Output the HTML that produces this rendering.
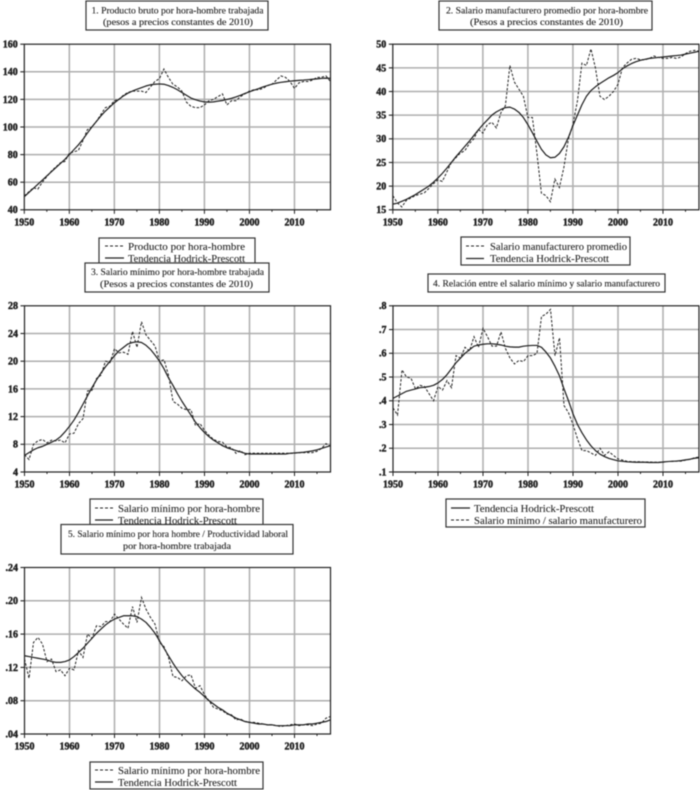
<!DOCTYPE html>
<html lang="es">
<head>
<meta charset="utf-8">
<title>Salarios y productividad</title>
<style>
html,body{margin:0;padding:0;background:#fff;width:700px;height:790px;overflow:hidden}
svg{display:block;filter:blur(0.45px)}
text{font-family:"Liberation Serif",serif;fill:#222}
.box{fill:#fff;stroke:#333;stroke-width:1.2}
.ttl{font-size:9.5px;text-anchor:start;stroke:#222;stroke-width:.12px}
.leg{font-size:10px;text-anchor:start;stroke:#222;stroke-width:.08px}
.tick{font-size:10px;font-weight:bold;stroke:#222;stroke-width:.45px}
</style>
</head>
<body>
<svg id="figure" width="700" height="790" viewBox="0 0 700 790" xmlns="http://www.w3.org/2000/svg">
  <g id="panel-1"></g>
  <g id="panel-2"></g>
  <g id="panel-3"></g>
  <g id="panel-4"></g>
  <g id="panel-5"></g>

  <g>
    <rect class="box" x="99" y="238" width="156" height="30"/>
    <line x1="105" x2="124" y1="246" y2="246" stroke="#222" stroke-width="1" stroke-dasharray="3 2"/>
    <text class="leg" x="128" y="250" textLength="117" lengthAdjust="spacingAndGlyphs">Producto por hora-hombre</text>
    <line x1="105" x2="124" y1="258" y2="258" stroke="#222" stroke-width="1.2"/>
    <text class="leg" x="128" y="262" textLength="117" lengthAdjust="spacingAndGlyphs">Tendencia Hodrick-Prescott</text>
  </g>
  <g>
    <rect class="box" x="461" y="237" width="169" height="28"/>
    <line x1="466" x2="484" y1="246" y2="246" stroke="#222" stroke-width="1" stroke-dasharray="3 2"/>
    <text class="leg" x="490" y="250" textLength="137" lengthAdjust="spacingAndGlyphs">Salario manufacturero promedio</text>
    <line x1="466" x2="484" y1="258.500" y2="258.500" stroke="#222" stroke-width="1.2"/>
    <text class="leg" x="490" y="262" textLength="119" lengthAdjust="spacingAndGlyphs">Tendencia Hodrick-Prescott</text>
  </g>
  <g>
    <rect class="box" x="90" y="499" width="173" height="30"/>
    <line x1="95" x2="113" y1="508" y2="508" stroke="#222" stroke-width="1" stroke-dasharray="3 2"/>
    <text class="leg" x="118" y="512" textLength="142" lengthAdjust="spacingAndGlyphs">Salario mínimo por hora-hombre</text>
    <line x1="95" x2="113" y1="520" y2="520" stroke="#222" stroke-width="1.2"/>
    <text class="leg" x="118" y="524" textLength="119" lengthAdjust="spacingAndGlyphs">Tendencia Hodrick-Prescott</text>
  </g>
  <g>
    <rect class="box" x="446" y="499" width="199" height="28"/>
    <line x1="451" x2="470" y1="508" y2="508" stroke="#222" stroke-width="1.2"/>
    <text class="leg" x="474" y="512" textLength="120" lengthAdjust="spacingAndGlyphs">Tendencia Hodrick-Prescott</text>
    <line x1="451" x2="470" y1="520" y2="520" stroke="#222" stroke-width="1" stroke-dasharray="3 2"/>
    <text class="leg" x="474" y="524" textLength="168" lengthAdjust="spacingAndGlyphs">Salario mínimo / salario manufacturero</text>
  </g>
  <g>
    <rect class="box" x="90" y="762" width="173" height="27"/>
    <line x1="95" x2="113" y1="770" y2="770" stroke="#222" stroke-width="1" stroke-dasharray="3 2"/>
    <text class="leg" x="118" y="774" textLength="142" lengthAdjust="spacingAndGlyphs">Salario mínimo por hora-hombre</text>
    <line x1="95" x2="113" y1="782" y2="782" stroke="#222" stroke-width="1.2"/>
    <text class="leg" x="118" y="786" textLength="119" lengthAdjust="spacingAndGlyphs">Tendencia Hodrick-Prescott</text>
  </g>

  <g>
    <rect class="box" x="86" y="1" width="182" height="29"/>
    <text class="ttl" x="91.500" y="13.500" textLength="172" lengthAdjust="spacingAndGlyphs">1. Producto bruto por hora-hombre trabajada</text>
    <text class="ttl" x="103" y="25" textLength="150" lengthAdjust="spacingAndGlyphs">(pesos a precios constantes de 2010)</text>
  </g>
  <g>
    <rect class="box" x="439" y="1" width="213" height="29"/>
    <text class="ttl" x="446" y="13.500" textLength="202" lengthAdjust="spacingAndGlyphs">2. Salario manufacturero promedio por hora-hombre</text>
    <text class="ttl" x="470" y="25" textLength="153" lengthAdjust="spacingAndGlyphs">(Pesos a precios constantes de 2010)</text>
  </g>
  <g>
    <rect class="box" x="85" y="263" width="184" height="29"/>
    <text class="ttl" x="91" y="275" textLength="173" lengthAdjust="spacingAndGlyphs">3. Salario mínimo por hora-hombre trabajada</text>
    <text class="ttl" x="100" y="287" textLength="153" lengthAdjust="spacingAndGlyphs">(Pesos a precios constantes de 2010)</text>
  </g>
  <g>
    <rect class="box" x="428" y="274" width="237" height="18"/>
    <text class="ttl" x="433" y="286.500" textLength="227" lengthAdjust="spacingAndGlyphs">4. Relación entre el salario mínimo y salario manufacturero</text>
  </g>
  <g>
    <rect class="box" x="61" y="524.500" width="232" height="29.500"/>
    <text class="ttl" x="68" y="537" textLength="220" lengthAdjust="spacingAndGlyphs">5. Salario mínimo por hora hombre / Productividad laboral</text>
    <text class="ttl" x="123" y="549" textLength="108" lengthAdjust="spacingAndGlyphs">por hora-hombre trabajada</text>
  </g>
</svg>

<script>
// Shared time axis
const firstYear = 1950;
const lastYear = 2018;
const xTickYears = [1950, 1960, 1970, 1980, 1990, 2000, 2010];

// Panel 1: producto por hora-hombre
const producto = [
  50,53,56,55,60,64,68,71,74,75,
  81,82,83,90,98,100,104,109,114,115,
  119,120,123,125,126,126,126,125,129,133,
  135,142,136,131,129,126,118,115,114,114,
  116,119,120,122,124,116,119,119,122,124,
  126,127,127,128,130,131,134,137,136,133,
  128,132,133,133,134,136,136,137,133];
const productoTrend = [
  49.5,52.5,55.5,58.5,61.5,64.5,67.5,70.5,73.5,76.5,
  80,83.5,87,91,95.5,100,104,108,111.5,114.5,
  117.5,120,122.5,124.5,126,127.3,128.5,129.7,130.6,131,
  131.2,131,130,128.7,127,125,123,121,119.8,118.8,
  118.2,118,118.2,118.7,119.2,120,120.8,121.8,123,124.3,
  125.5,126.7,127.8,129,130,131,131.8,132.4,132.8,133.2,
  133.5,133.8,134,134.3,134.6,134.9,135.2,135.4,135.3];
const productoTicks = [40,60,80,100,120,140,160];
const productoTickLabels = ["40","60","80","100","120","140","160"];

// Panel 2: salario manufacturero
const manufacturero = [
  18,16.5,15.6,17,17.5,18,18.3,18.6,19.5,20.5,
  21.3,21,23,25,26,27,27.5,29,30,32,
  31.2,33,33.5,32.3,35.5,37,45.5,42,40.5,39,
  34.5,34.5,27,18.5,18,16.7,21.5,19.7,24,30,
  33,38,46,45.5,49,45,39,38.3,39,40,
  41.5,45,46,46.8,47,46.7,46.7,47,47.5,47.2,
  47,47,47.2,47,47.3,48,48.5,48.7,48.5];
const manufactureroTrend = [
  16.2,16.4,16.8,17.2,17.7,18.2,18.8,19.4,20,20.8,
  21.7,22.7,23.8,25,26.2,27.3,28.4,29.5,30.7,31.9,
  33,34,35,35.7,36.2,36.6,36.7,36.3,35.6,34.5,
  33,31.3,29.5,27.8,26.6,26,26.1,26.9,28.3,30.3,
  32.8,35,37.2,39,40.2,41,41.7,42.3,42.9,43.4,
  44,44.8,45.4,45.9,46.3,46.6,46.8,47,47.1,47.2,
  47.3,47.4,47.5,47.6,47.7,47.9,48.1,48.3,48.5];
const manufactureroTicks = [15,20,25,30,35,40,45,50];
const manufactureroTickLabels = ["15","20","25","30","35","40","45","50"];

// Panel 3: salario minimo
const minimo = [
  6.5,5.8,8,8.5,8.7,8.2,8.6,8.5,8.6,8.2,
  9.5,9.6,11,11.7,15.7,15.8,17.5,18,20,19.8,
  21.8,21.2,21.3,21,24.3,22,25.7,23.8,23,22.2,
  20,20.2,18,14.2,13.8,13.2,13,13,10.7,11,
  10,9.3,8.7,8.4,8.3,7.6,7.5,6.7,7.1,6.5,
  6.7,6.7,6.7,6.7,6.7,6.7,6.7,6.7,6.7,6.7,
  6.7,6.8,6.8,6.8,6.8,7,7.4,8.1,7.7];
const minimoTrend = [
  6.4,6.8,7.2,7.5,7.7,8,8.3,8.6,9.1,9.8,
  10.6,11.5,12.6,13.8,15,16.2,17.3,18.3,19.2,20,
  20.8,21.5,22,22.5,22.7,22.8,22.7,22.3,21.7,20.9,
  20,18.9,17.6,16.5,15.3,14.2,13.2,12.2,11.2,10.4,
  9.7,9.1,8.6,8.2,7.8,7.5,7.3,7.1,6.9,6.7,
  6.6,6.6,6.6,6.6,6.6,6.6,6.6,6.6,6.6,6.7,
  6.75,6.8,6.85,6.95,7.05,7.2,7.4,7.6,7.8];
const minimoTicks = [4,8,12,16,20,24,28];
const minimoTickLabels = ["4","8","12","16","20","24","28"];

// Panel 4: relacion salario minimo / manufacturero
const relacion = [
  .37,.34,.53,.50,.495,.45,.465,.46,.43,.40,
  .46,.445,.485,.455,.59,.58,.625,.61,.67,.625,
  .705,.67,.63,.63,.69,.62,.58,.555,.57,.565,
  .59,.59,.60,.755,.765,.785,.59,.665,.38,.35,
  .30,.24,.19,.19,.18,.17,.20,.17,.185,.17,
  .155,.15,.145,.143,.143,.143,.142,.142,.141,.141,
  .141,.144,.145,.146,.146,.150,.153,.160,.163];
const relacionTrend = [
  .41,.42,.43,.44,.445,.45,.455,.457,.46,.465,
  .475,.49,.51,.535,.56,.58,.60,.615,.63,.635,
  .638,.64,.64,.638,.635,.63,.627,.626,.626,.63,
  .632,.633,.633,.625,.605,.58,.545,.505,.45,.40,
  .345,.30,.265,.235,.21,.19,.175,.165,.157,.152,
  .147,.145,.143,.142,.141,.141,.141,.14,.14,.14,
  .142,.144,.145,.146,.148,.151,.154,.158,.16];
const relacionTicks = [.1,.2,.3,.4,.5,.6,.7,.8];
const relacionTickLabels = [".1",".2",".3",".4",".5",".6",".7",".8"];

// Panel 5: salario minimo / productividad
const minimoProd = [
  .13,.107,.15,.156,.148,.127,.13,.115,.117,.11,
  .119,.117,.14,.132,.16,.155,.17,.169,.175,.175,
  .184,.178,.172,.167,.193,.174,.204,.19,.18,.172,
  .15,.145,.132,.109,.108,.104,.11,.111,.095,.098,
  .087,.08,.072,.07,.068,.064,.063,.057,.058,.055,
  .054,.054,.053,.052,.051,.051,.05,.049,.05,.051,
  .052,.05,.051,.051,.05,.052,.053,.059,.061];
const minimoProdTrend = [
  .134,.133,.132,.131,.13,.129,.127,.126,.126,.127,
  .129,.133,.138,.143,.149,.155,.161,.166,.171,.175,
  .178,.18,.182,.182,.182,.181,.178,.174,.168,.161,
  .152,.143,.134,.125,.117,.11,.104,.099,.094,.09,
  .085,.08,.076,.072,.069,.065,.062,.059,.057,.055,
  .054,.053,.052,.052,.051,.051,.05,.05,.05,.05,
  .051,.051,.051,.052,.052,.053,.054,.055,.057];
const minimoProdTicks = [.04,.08,.12,.16,.20,.24];
const minimoProdTickLabels = [".04",".08",".12",".16",".20",".24"];

const NS = "http://www.w3.org/2000/svg";

function make(tag, attrs, parent) {
  const node = document.createElementNS(NS, tag);
  for (const k in attrs) node.setAttribute(k, attrs[k]);
  parent.appendChild(node);
  return node;
}

function drawPanel(id, box, dashed, trend, ticks, tickLabels) {
  const root = document.getElementById(id);
  const yMin = ticks[0];
  const yMax = ticks[ticks.length - 1];
  const xScale = function (yr) { return box.left + (yr - firstYear) / (lastYear - firstYear) * (box.right - box.left); };
  const yScale = function (v) { return box.bottom - (v - yMin) / (yMax - yMin) * (box.bottom - box.top); };

  ticks.forEach(function (t, i) {
    if (i > 0 && i < ticks.length - 1) {
      const g = make("line", {x1: box.left, x2: box.right, y1: yScale(t), y2: yScale(t), stroke: "#aeaeae", "stroke-width": 1.5}, root);
      
      
    }
    const tk = make("line", {x1: box.left - 4, x2: box.left, y1: yScale(t), y2: yScale(t), stroke: "#222", "stroke-width": 1.1}, root);
    
    
    const lb = make("text", {x: box.left - 6.5, y: yScale(t) + 3.4, "text-anchor": "end", "class": "tick"}, root);
    
    
    lb.textContent = tickLabels[i];
  });

  xTickYears.forEach(function (yr, i) {
    if (i > 0) {
      const g = make("line", {x1: xScale(yr), x2: xScale(yr), y1: box.top, y2: box.bottom, stroke: "#aeaeae", "stroke-width": 1.5}, root);
      
      
    }
    const lb = make("text", {x: xScale(yr), y: box.bottom + 15.5, "text-anchor": "middle", "class": "tick"}, root);
    
    
    lb.textContent = yr;
  });

  for (let yr = firstYear; yr <= lastYear; yr += 5) {
    const major = (yr % 10 === 0);
    const tk = make("line", {x1: xScale(yr), x2: xScale(yr), y1: box.bottom, y2: box.bottom + (major ? 4 : 2), stroke: "#222", "stroke-width": 1}, root);
    
    
  }

  const toPoints = function (arr) {
    return arr.map(function (v, i) { return xScale(firstYear + i).toFixed(2) + "," + yScale(v).toFixed(2); }).join(" ");
  };

  const dashLine = make("polyline", {points: toPoints(dashed), fill: "none", stroke: "#222", "stroke-width": 1, "stroke-dasharray": "2.6 1.6"}, root);
  
  

  const trendLine = make("polyline", {points: toPoints(trend), fill: "none", stroke: "#1c1c1c", "stroke-width": 1.2, "stroke-linejoin": "round"}, root);
  
  

  const frame = make("rect", {x: box.left, y: box.top, width: box.right - box.left, height: box.bottom - box.top, fill: "none", stroke: "#222", "stroke-width": 1.2}, root);
  
  
}

drawPanel("panel-1", {left: 24.3, right: 330.5, top: 44.2, bottom: 209.8}, producto, productoTrend, productoTicks, productoTickLabels);
drawPanel("panel-2", {left: 392.8, right: 699, top: 44.2, bottom: 209.8}, manufacturero, manufactureroTrend, manufactureroTicks, manufactureroTickLabels);
drawPanel("panel-3", {left: 24.5, right: 330.5, top: 305.8, bottom: 472}, minimo, minimoTrend, minimoTicks, minimoTickLabels);
drawPanel("panel-4", {left: 393, right: 699, top: 305.8, bottom: 472}, relacion, relacionTrend, relacionTicks, relacionTickLabels);
drawPanel("panel-5", {left: 24.5, right: 330.5, top: 567.5, bottom: 734}, minimoProd, minimoProdTrend, minimoProdTicks, minimoProdTickLabels);
</script>
</body>
</html>
